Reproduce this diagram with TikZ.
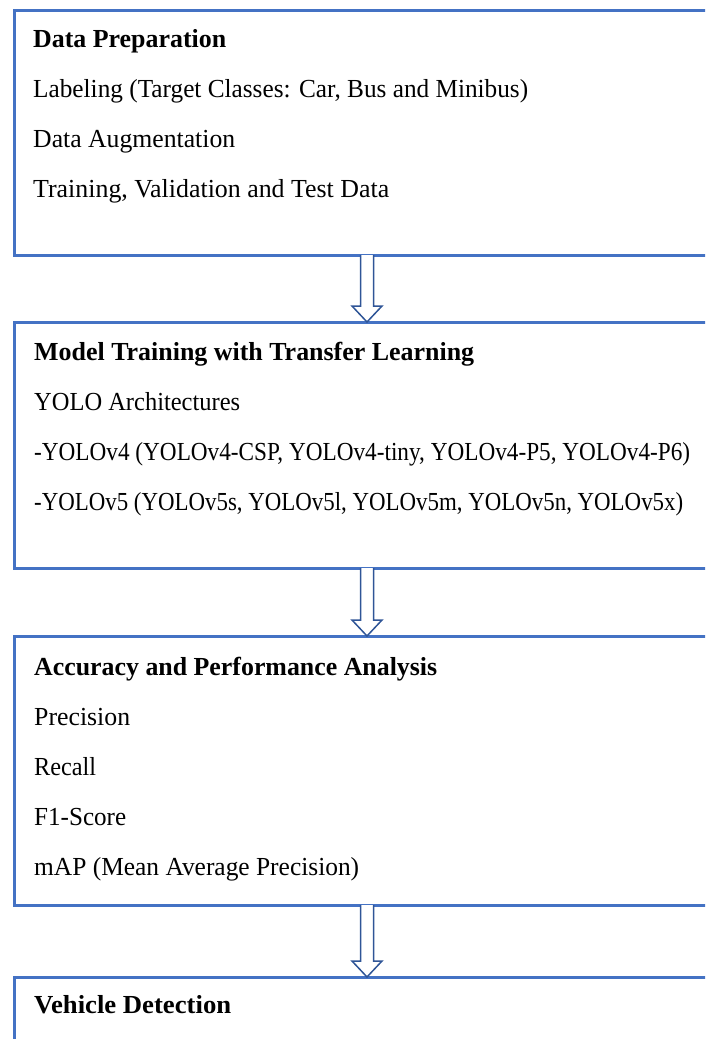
\documentclass[tikz,border=0pt]{standalone}
\usepackage{fontspec}
\usepackage{graphicx}
\setmainfont{Liberation Serif}
\usetikzlibrary{calc}
\definecolor{boxblue}{HTML}{4472C4}
\definecolor{arrblue}{HTML}{2F5597}
\newcommand{\fitw}[2]{\resizebox{#1pt}{\height}{#2}}
\tikzset{
  box/.style={draw=boxblue, line width=3pt, rectangle, anchor=north west, minimum width=706pt, inner sep=0pt, outer sep=0pt},
  txt/.style={anchor=base west, inner sep=0pt, font=\fontsize{26}{30}\selectfont},
  hdr/.style={txt, font=\fontsize{26}{30}\selectfont\bfseries},
  hollow/.style={draw=arrblue, line width=1.5pt, fill=white, line join=miter}
}
\begin{document}
\begin{tikzpicture}[x=1pt,y=-1pt]
\useasboundingbox (0,0) rectangle (705,1039);
\clip (0,0) rectangle (705,1039);
\node[box, minimum height=245pt] (b1) at (14,10) {};
\node[box, minimum height=246pt] (b2) at (14,322) {};
\node[box, minimum height=269pt] (b3) at (14,636) {};
\node[box, minimum height=200pt] (b4) at (14,977) {};

\node[hdr] (t11) at (33,47) {\fitw{193}{Data Preparation}};
\node[txt] (t12) at (33,97) {\fitw{495}{Labeling (Target Classes: Car, Bus and Minibus)}};
\node[txt] (t13) at (33,147) {\fitw{202}{Data Augmentation}};
\node[txt] (t14) at (33,197) {\fitw{356}{Training, Validation and Test Data}};

\node[hdr] (t21) at (34,360) {\fitw{440}{Model Training with Transfer Learning}};
\node[txt] (t22) at (34,410) {\fitw{206}{YOLO Architectures}};
\node[txt] (t23) at (34,460) {\fitw{656}{-YOLOv4 (YOLOv4-CSP, YOLOv4-tiny, YOLOv4-P5, YOLOv4-P6)}};
\node[txt] (t24) at (34,510) {\fitw{649}{-YOLOv5 (YOLOv5s, YOLOv5l, YOLOv5m, YOLOv5n, YOLOv5x)}};

\node[hdr] (t31) at (34,675) {\fitw{403}{Accuracy and Performance Analysis}};
\node[txt] (t32) at (34,725) {\fitw{96}{Precision}};
\node[txt] (t33) at (34,775) {\fitw{62}{Recall}};
\node[txt] (t34) at (34,825) {\fitw{92}{F1-Score}};
\node[txt] (t35) at (34,875) {\fitw{325}{mAP (Mean Average Precision)}};

\node[hdr] (t41) at (34,1013) {\fitw{197}{Vehicle Detection}};

\foreach \a/\b in {b1/b2, b2/b3, b3/b4}{
  \draw[hollow] ($(\a.south)+(-6.5,0)$) -- ($(\b.north)+(-6.5,-16)$) -- ($(\b.north)+(-15,-16)$)
    -- (\b.north) -- ($(\b.north)+(15,-16)$) -- ($(\b.north)+(6.5,-16)$) -- ($(\a.south)+(6.5,0)$);
}
\end{tikzpicture}
\end{document}
